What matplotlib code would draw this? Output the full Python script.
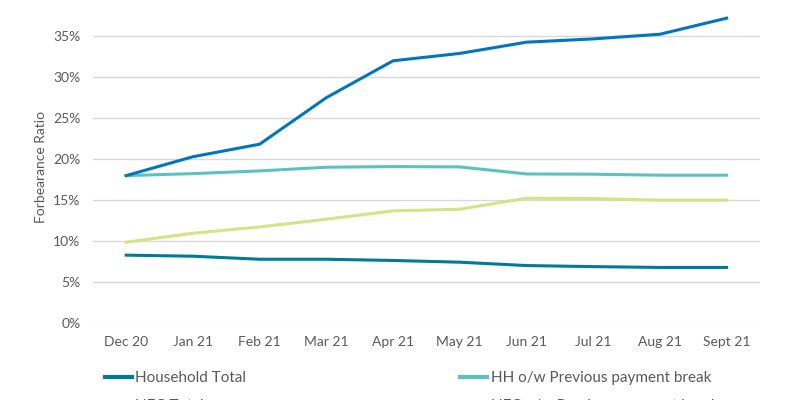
import matplotlib.pyplot as plt
from matplotlib.ticker import PercentFormatter

plt.rcParams['font.family'] = ['Lato', 'DejaVu Sans']

months = ['Dec 20', 'Jan 21', 'Feb 21', 'Mar 21', 'Apr 21',
          'May 21', 'Jun 21', 'Jul 21', 'Aug 21', 'Sept 21']
household_total = [8.3, 8.17, 7.8, 7.8, 7.65, 7.44, 7.03, 6.9, 6.8, 6.8]
hh_prev_break = [18.0, 18.24, 18.57, 19.02, 19.1, 19.06, 18.2, 18.17, 18.05, 18.05]
nfc_total = [18.0, 20.3, 21.83, 27.5, 32.0, 32.9, 34.27, 34.67, 35.24, 37.2]
nfc_prev_break = [9.88, 10.97, 11.74, 12.68, 13.7, 13.9, 15.24, 15.2, 15.0, 15.0]

grey = '#595959'
fig = plt.figure(figsize=(8, 4), dpi=100)
ax = fig.add_axes([0.116, 0.192, 0.834, 0.779])

x = range(len(months))
l1, = ax.plot(x, household_total, color='#007a99', lw=2.2, label='Household Total')
l2, = ax.plot(x, hh_prev_break, color='#5bc2be', lw=2.2,
              label='HH o/w Previous payment break')
l3, = ax.plot(x, nfc_total, color='#0075c2', lw=2.2, label='NFC Total')
l4, = ax.plot(x, nfc_prev_break, color='#d5e384', lw=2.2,
              label='NFC o/w Previous payment break')

ax.set_xlim(-0.5, 9.5)
ax.set_ylim(0, 38)
ax.set_yticks([0, 5, 10, 15, 20, 25, 30, 35])
ax.yaxis.set_major_formatter(PercentFormatter(decimals=0))
ax.set_xticks(list(x))
ax.set_xticklabels(months)
ax.grid(axis='y', color='#d9d9d9', lw=1)
ax.set_axisbelow(True)
for s in ax.spines.values():
    s.set_visible(False)
ax.tick_params(length=0, labelsize=10, labelcolor=grey)
ax.tick_params(axis='x', pad=9)
ax.tick_params(axis='y', pad=9)
ax.set_ylabel('Forbearance Ratio', fontsize=10, color=grey, labelpad=4)

# legend sits low, second row partly below the edge as in the source
leg_kw = dict(frameon=False, fontsize=11, handlelength=1.8, handletextpad=0.2,
              borderpad=0, borderaxespad=0, labelspacing=0.9, loc='upper left',
              labelcolor=grey)
lg1 = fig.legend([l1, l3], ['Household Total', 'NFC Total'],
                 bbox_to_anchor=(0.131, 0.072), **leg_kw)
lg2 = fig.legend([l2, l4], ['HH o/w Previous payment break', 'NFC o/w Previous payment break'],
                 bbox_to_anchor=(0.575, 0.072), **leg_kw)
for lg in (lg1, lg2):
    for h in lg.legend_handles:
        h.set_linewidth(3)

fig.savefig('out.png', dpi=100)
